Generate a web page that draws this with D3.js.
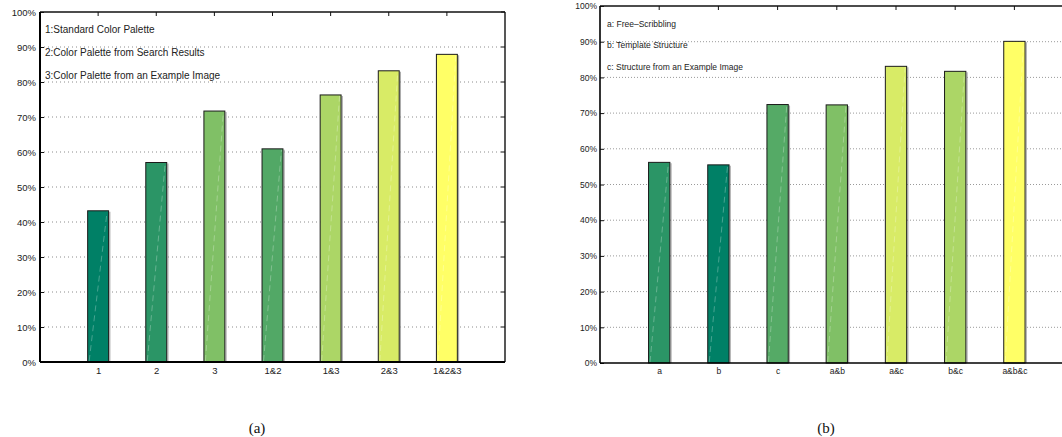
<!DOCTYPE html>
<html>
<head>
<meta charset="utf-8">
<script src="https://cdn.jsdelivr.net/npm/d3@7"></script>
<style>
  html, body { margin: 0; padding: 0; background: #fff; }
  svg { display: block; }
</style>
</head>
<body>
<svg id="chart" width="1062" height="437"></svg>
<script>
// Panel (a): colour palette sources
const catsA = ["1", "2", "3", "1&2", "1&3", "2&3", "1&2&3"];
const valuesA = [43.2, 57.0, 71.7, 60.9, 76.3, 83.2, 87.9];
const colorsA = ["#008066", "#2b9566", "#80c066", "#52a866", "#acd666", "#d8eb66", "#ffff66"];
const legendA = ["1:Standard Color Palette", "2:Color Palette from Search Results", "3:Color Palette from an Example Image"];

// Panel (b): structure sources
const catsB = ["a", "b", "c", "a&b", "a&c", "b&c", "a&b&c"];
const valuesB = [56.2, 55.5, 72.4, 72.3, 83.1, 81.7, 90.1];
const colorsB = ["#2b9566", "#008066", "#55aa66", "#80c066", "#d8eb66", "#acd666", "#ffff66"];
const legendB = ["a: Free\u2013Scribbling", "b: Template Structure", "c: Structure from an Example Image"];

const yTicks = [0, 10, 20, 30, 40, 50, 60, 70, 80, 90, 100];
const captions = ["(a)", "(b)"];

const svg = d3.select("#chart");

function panel(cfg) {
  const g = svg.append("g");
  const x = d3.scalePoint().domain(cfg.cats).range([cfg.x0, cfg.x1]).padding(1);
  const y = d3.scaleLinear().domain([0, 100]).range([cfg.y0, cfg.y1]);
  const step = x.step();
  const bw = step * 0.36;
  const xr = Math.min(cfg.x1, 1070);

  // dotted grid
  g.append("g").selectAll("line")
    .data(yTicks.filter(t => t > 0 && t < 100))
    .join("line")
    .attr("x1", cfg.x0 + 4).attr("x2", xr - 4)
    .attr("y1", d => y(d)).attr("y2", d => y(d))
    .attr("stroke", cfg.gridColor)
    .attr("stroke-width", 1)
    .attr("stroke-dasharray", cfg.gridDash);

  // bars
  const bars = g.append("g").selectAll("g")
    .data(cfg.cats.map((c, i) => ({ c, v: cfg.values[i], col: cfg.colors[i] })))
    .join("g");

  bars.append("line")
    .attr("x1", d => x(d.c) + bw / 2 + 1.2).attr("x2", d => x(d.c) + bw / 2 + 1.2)
    .attr("y1", d => y(d.v) + 1).attr("y2", y(0))
    .attr("stroke", "#8a8a8a").attr("stroke-width", 1.2).attr("opacity", 0.7);

  bars.append("rect")
    .attr("x", d => x(d.c) - bw / 2)
    .attr("width", bw)
    .attr("y", d => y(d.v))
    .attr("height", d => y(0) - y(d.v))
    .attr("fill", d => d.col)
    .attr("stroke", "#1a1a1a")
    .attr("stroke-width", 1);

  // faint diagonal seam inside each bar
  bars.append("line")
    .attr("x1", d => x(d.c) - bw / 2 + 1.5).attr("y1", y(0) - 1)
    .attr("x2", d => x(d.c) + bw / 2 - 1.5).attr("y2", d => y(d.v) + 1)
    .attr("stroke", "#ffffff").attr("stroke-width", 0.8)
    .attr("stroke-opacity", 0.35).attr("stroke-dasharray", "6,4");

  // y axis labels with inward ticks
  const ay = g.append("g")
    .attr("transform", `translate(${cfg.x0},0)`)
    .call(d3.axisLeft(y).tickValues(yTicks).tickFormat(d => d + "%")
      .tickSize(-4).tickPadding(cfg.yPad));
  ay.select(".domain").remove();
  ay.selectAll("line").attr("stroke", "#111").attr("stroke-width", 1);
  ay.selectAll("text").attr("font-family", "Liberation Sans, Arial, sans-serif")
    .attr("font-size", cfg.fs).attr("fill", "#222");

  // x axis labels
  const ax = g.append("g")
    .attr("transform", `translate(0,${cfg.y0})`)
    .call(d3.axisBottom(x).tickSize(-4).tickPadding(5));
  ax.select(".domain").remove();
  ax.selectAll("line").remove();
  ax.selectAll("text").attr("font-family", "Liberation Sans, Arial, sans-serif")
    .attr("font-size", cfg.fs).attr("fill", "#222");

  // top ticks
  g.append("g").selectAll("line").data(cfg.cats).join("line")
    .attr("x1", d => x(d)).attr("x2", d => x(d))
    .attr("y1", cfg.y1).attr("y2", cfg.y1 + 4)
    .attr("stroke", "#111").attr("stroke-width", 1);

  // right ticks
  if (cfg.x1 < 1062) {
    g.append("g").selectAll("line").data(yTicks).join("line")
      .attr("x1", cfg.x1 - 4).attr("x2", cfg.x1)
      .attr("y1", d => y(d)).attr("y2", d => y(d))
      .attr("stroke", "#111").attr("stroke-width", 1);
  }

  // frame
  g.append("line").attr("x1", cfg.x0).attr("x2", xr).attr("y1", cfg.y1).attr("y2", cfg.y1)
    .attr("stroke", "#111").attr("stroke-width", 1.4);
  g.append("line").attr("x1", cfg.x1).attr("x2", cfg.x1).attr("y1", cfg.y1).attr("y2", cfg.y0)
    .attr("stroke", "#111").attr("stroke-width", 1.4);
  g.append("line").attr("x1", cfg.x0).attr("x2", xr).attr("y1", cfg.y0).attr("y2", cfg.y0)
    .attr("stroke", "#000").attr("stroke-width", cfg.axisW);
  g.append("line").attr("x1", cfg.x0).attr("x2", cfg.x0).attr("y1", cfg.y1).attr("y2", cfg.y0)
    .attr("stroke", "#000").attr("stroke-width", cfg.axisW);

  // legend notes
  g.append("g").selectAll("text").data(cfg.legend).join("text")
    .attr("x", cfg.x0 + cfg.legDx)
    .attr("y", (d, i) => cfg.legY0 + i * cfg.legDy)
    .attr("font-family", "Liberation Sans, Arial, sans-serif")
    .attr("font-size", cfg.legFs)
    .attr("fill", "#222")
    .text(d => d);

  // caption
  g.append("text")
    .attr("x", cfg.capX).attr("y", 433)
    .attr("text-anchor", "middle")
    .attr("font-family", "Liberation Serif, Times New Roman, serif")
    .attr("font-size", 15)
    .attr("fill", "#111")
    .text(cfg.caption);
}

panel({
  cats: catsA, values: valuesA, colors: colorsA, legend: legendA,
  x0: 40, x1: 505, y0: 362, y1: 12,
  fs: 9.5, yPad: 4, axisW: 2,
  gridColor: "#8c8c8c", gridDash: "1,3",
  legDx: 5, legY0: 33.3, legDy: 22.7, legFs: 10,
  caption: captions[0], capX: 257
});

panel({
  cats: catsB, values: valuesB, colors: colorsB, legend: legendB,
  x0: 600, x1: 1073.6, y0: 363, y1: 6,
  fs: 8.5, yPad: 3, axisW: 1.6,
  gridColor: "#9a9a9a", gridDash: "1,2",
  legDx: 7, legY0: 26.5, legDy: 21.5, legFs: 8.5,
  caption: captions[1], capX: 826
});
</script>
</body>
</html>
